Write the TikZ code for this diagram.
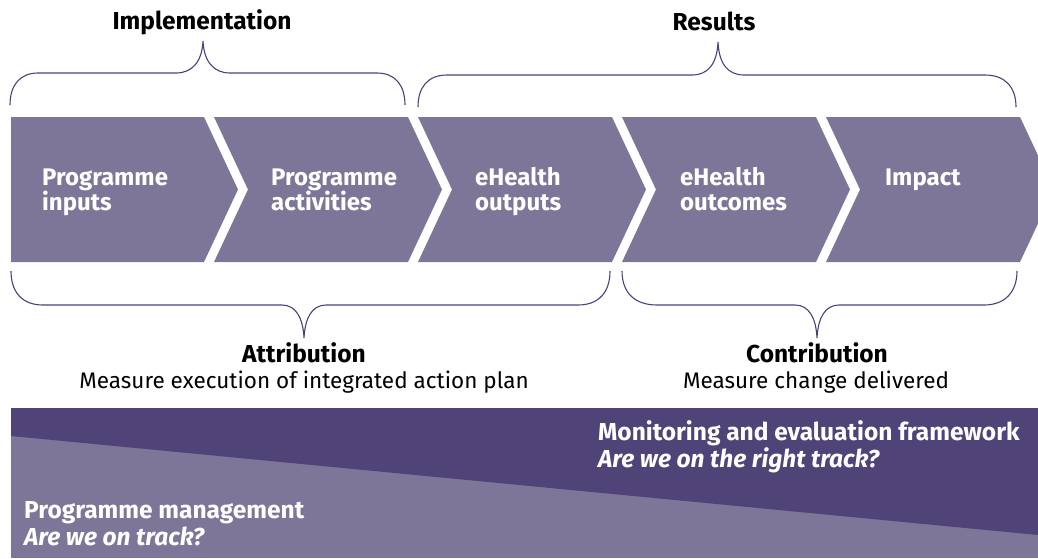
\documentclass[tikz,border=0pt]{standalone}
\usepackage{fontspec}
\setmainfont{Fira Sans}
\definecolor{chevfill}{HTML}{7E7699}
\definecolor{darkpanel}{HTML}{504378}
\definecolor{bracecol}{HTML}{4B4079}
\tikzset{
  chev/.style={fill=chevfill, draw=none},
  bracepath/.style={draw=bracecol, line width=1.1pt},
  ctext/.style={text=white, font=\bfseries\fontsize{24}{25}\selectfont, align=left, anchor=base west, inner sep=0pt},
  head/.style={font=\bfseries\fontsize{24.5}{25}\selectfont, anchor=base, inner sep=0pt},
  subtext/.style={font=\fontsize{22.5}{25}\selectfont, anchor=base, inner sep=0pt},
  ptext/.style={text=white, font=\bfseries\fontsize{24.5}{27}\selectfont, align=left, anchor=base west, inner sep=0pt},
}
\begin{document}
\begin{tikzpicture}[x=1pt, y=-1pt]
\useasboundingbox (0,0) rectangle (1038,558);
\clip (0,0) rectangle (1038,558);
% chevrons
\fill[chev] (11,117) -- (204,117) -- (238,189.5) -- (204,262) -- (11,262) -- cycle;
\foreach \L/\R in {214/408, 418/612, 622/816, 826/1020}{
  \fill[chev] (\L,117) -- (\R,117) -- (\R+34,189.5) -- (\R,262) -- (\L,262) -- (\L+34,189.5) -- cycle;
}
\node[ctext] (c1) at (42,210) {Programme\\inputs};
\node[ctext] (c2) at (271,210) {Programme\\activities};
\node[ctext] (c3) at (475,210) {eHealth\\outputs};
\node[ctext] (c4) at (680,210) {eHealth\\outcomes};
\node[ctext] (c5) at (885,185) {Impact};
% top braces
\draw[bracepath] (10,105) .. controls (10,85) and (20,73) .. (38,73) -- (176,73)
  .. controls (192,73) and (202,62) .. (203,41) .. controls (204,62) and (214,73) .. (230,73)
  -- (377,73) .. controls (395,73) and (405,85) .. (405,105);
\draw[bracepath] (418,107) .. controls (418,87) and (428,75) .. (447,75) -- (692,75)
  .. controls (708,75) and (717,64) .. (718,42) .. controls (719,64) and (728,75) .. (744,75)
  -- (985,75) .. controls (1005,75) and (1016,87) .. (1016,107);
\node[head] (impl) at (202,29) {Implementation};
\node[head] (res) at (714,30) {Results};
% bottom braces
\draw[bracepath] (11,271) .. controls (11,292) and (22,305) .. (43,305) -- (282,305)
  .. controls (296,305) and (303,318) .. (304,338) .. controls (305,318) and (312,305) .. (326,305)
  -- (578,305) .. controls (599,305) and (610,292) .. (610,271);
\draw[bracepath] (622,271) .. controls (622,292) and (634,305) .. (657,305) -- (795,305)
  .. controls (809,305) and (816,318) .. (817,338) .. controls (818,318) and (825,305) .. (839,305)
  -- (984,305) .. controls (1005,305) and (1017,292) .. (1017,271);
\node[head] (attr) at (304,362) {Attribution};
\node[subtext] (attrs) at (304,388) {Measure execution of integrated action plan};
\node[head] (contr) at (817,362) {Contribution};
\node[subtext] (contrs) at (816,388) {Measure change delivered};
% bottom panel
\fill[chevfill] (11,408) rectangle (1038,558);
\fill[darkpanel] (11,408) -- (1038,408) -- (1038,535) -- (11,436) -- cycle;
\node[ptext] (me) at (598,467) {Monitoring and evaluation framework\\\textit{Are we on the right track?}};
\node[ptext] (pm) at (24,545) {Programme management\\\textit{Are we on track?}};
\end{tikzpicture}
\end{document}
